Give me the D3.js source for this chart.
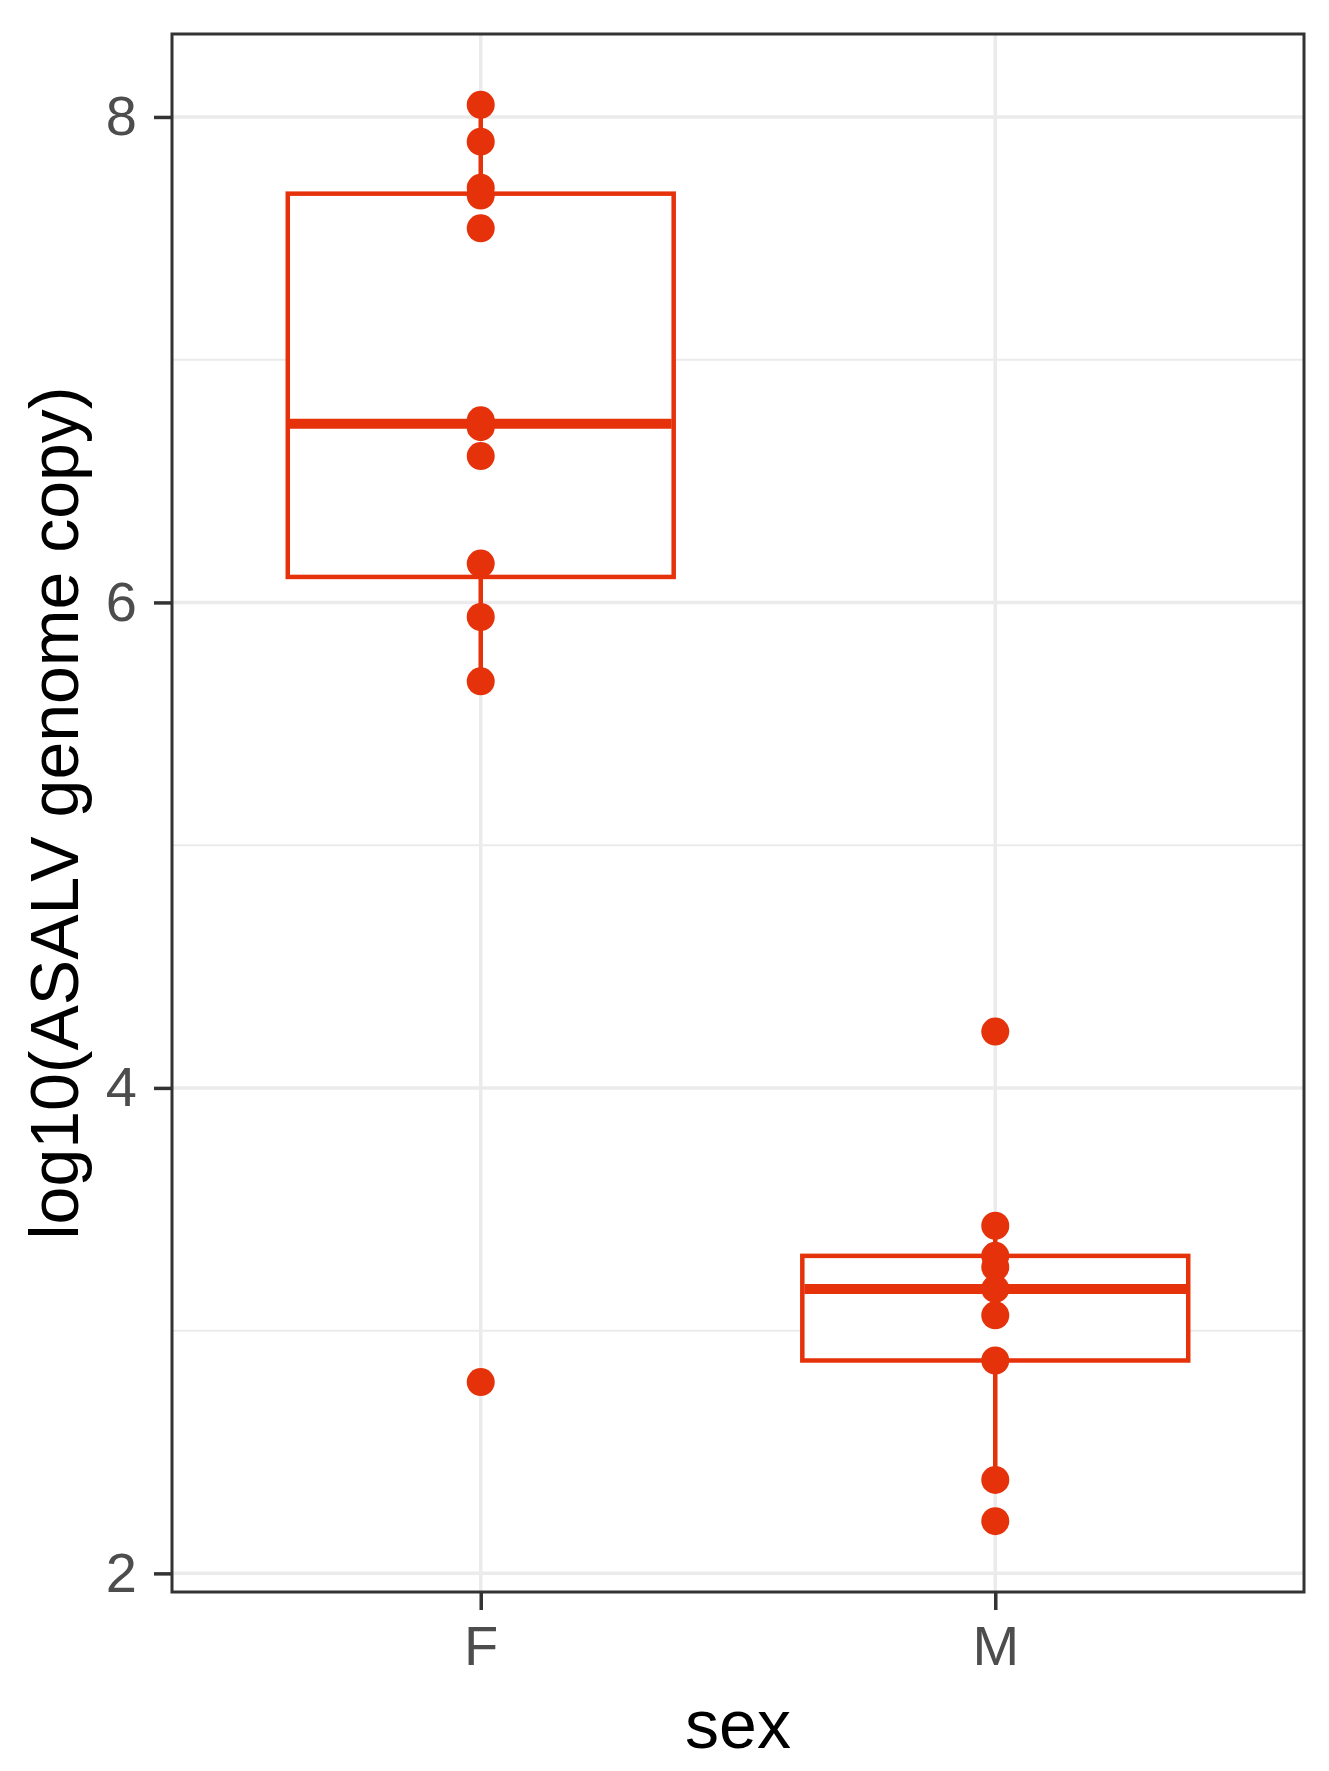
<!DOCTYPE html>
<html>
<head>
<meta charset="utf-8">
<script src="https://cdn.jsdelivr.net/npm/d3@7"></script>
<style>
  body { margin: 0; background: #fff; }
  text { font-family: "Liberation Sans", Arial, Helvetica, sans-serif; }
</style>
</head>
<body>
<div id="wrapper"></div>
<script>
// values (log10 genome copies)
const groups = ["F", "M"];
const valuesF = [8.050, 7.898, 7.708, 7.676, 7.541, 6.750, 6.722, 6.603, 6.160, 5.940, 5.675, 2.788];
const valuesM = [4.232, 3.432, 3.308, 3.262, 3.172, 3.063, 2.877, 2.385, 2.215];
const yTicks = [2, 4, 6, 8];
const yMinor = [3, 5, 7];

const red = "#E6320A";

const dimension = {
    width: 1329,
    height: 1771,
    margin: { top: 34, left: 172, right: 25, bottom: 179 }
};
dimension.boundedWidth = dimension.width - dimension.margin.left - dimension.margin.right;
dimension.boundedHeight = dimension.height - dimension.margin.top - dimension.margin.bottom;

const data = [
    { key: "F", values: valuesF },
    { key: "M", values: valuesM }
];

// boxplot stats, ggplot style (type 7 quantiles, 1.5 IQR whiskers)
data.forEach(d => {
    const s = d.values.slice().sort(d3.ascending);
    d.q1 = d3.quantile(s, 0.25);
    d.median = d3.quantile(s, 0.5);
    d.q3 = d3.quantile(s, 0.75);
    const iqr = d.q3 - d.q1;
    d.lo = d3.min(s.filter(v => v >= d.q1 - 1.5 * iqr));
    d.hi = d3.max(s.filter(v => v <= d.q3 + 1.5 * iqr));
});

const all = valuesF.concat(valuesM);
const ext = d3.extent(all);
const pad = (ext[1] - ext[0]) * 0.05;

const svg = d3.select("#wrapper").append("svg")
    .attr("width", dimension.width)
    .attr("height", dimension.height);

const bounded = svg.append("g")
    .attr("transform", `translate(${dimension.margin.left},${dimension.margin.top})`);

const scaleY = d3.scaleLinear()
    .domain([ext[0] - pad, ext[1] + pad])
    .range([dimension.boundedHeight, 0]);

const scaleX = d3.scalePoint()
    .domain(groups)
    .range([0, dimension.boundedWidth])
    .padding(0.6);

const boxW = scaleX.step() * 0.75;

// grid
bounded.append("g").selectAll("line")
    .data(yMinor).join("line")
    .attr("x1", 0).attr("x2", dimension.boundedWidth)
    .attr("y1", d => scaleY(d)).attr("y2", d => scaleY(d))
    .attr("stroke", "#EBEBEB").attr("stroke-width", 2);

bounded.append("g").selectAll("line")
    .data(yTicks).join("line")
    .attr("x1", 0).attr("x2", dimension.boundedWidth)
    .attr("y1", d => scaleY(d)).attr("y2", d => scaleY(d))
    .attr("stroke", "#EBEBEB").attr("stroke-width", 3.5);

bounded.append("g").selectAll("line")
    .data(groups).join("line")
    .attr("x1", d => scaleX(d)).attr("x2", d => scaleX(d))
    .attr("y1", 0).attr("y2", dimension.boundedHeight)
    .attr("stroke", "#EBEBEB").attr("stroke-width", 3.5);

// boxes
const boxes = bounded.append("g").selectAll("g")
    .data(data).join("g");

boxes.append("line")
    .attr("x1", d => scaleX(d.key)).attr("x2", d => scaleX(d.key))
    .attr("y1", d => scaleY(d.q3)).attr("y2", d => scaleY(d.hi))
    .attr("stroke", red).attr("stroke-width", 4.5);

boxes.append("line")
    .attr("x1", d => scaleX(d.key)).attr("x2", d => scaleX(d.key))
    .attr("y1", d => scaleY(d.q1)).attr("y2", d => scaleY(d.lo))
    .attr("stroke", red).attr("stroke-width", 4.5);

boxes.append("rect")
    .attr("x", d => scaleX(d.key) - boxW / 2)
    .attr("y", d => scaleY(d.q3))
    .attr("width", boxW)
    .attr("height", d => scaleY(d.q1) - scaleY(d.q3))
    .attr("fill", "white")
    .attr("stroke", red).attr("stroke-width", 4.5);

boxes.append("line")
    .attr("x1", d => scaleX(d.key) - boxW / 2 + 2)
    .attr("x2", d => scaleX(d.key) + boxW / 2 - 2)
    .attr("y1", d => scaleY(d.median)).attr("y2", d => scaleY(d.median))
    .attr("stroke", red).attr("stroke-width", 10);

// points
const points = data.flatMap(d => d.values.map(v => ({ key: d.key, v })));
bounded.append("g").selectAll("circle")
    .data(points).join("circle")
    .attr("cx", d => scaleX(d.key))
    .attr("cy", d => scaleY(d.v))
    .attr("r", 14)
    .attr("fill", red);

// panel border
bounded.append("rect")
    .attr("width", dimension.boundedWidth)
    .attr("height", dimension.boundedHeight)
    .attr("fill", "none")
    .attr("stroke", "#333333")
    .attr("stroke-width", 3);

// axes
const yAxis = bounded.append("g")
    .call(d3.axisLeft(scaleY).tickValues(yTicks).tickSize(18).tickPadding(17).tickFormat(d3.format("d")));
const xAxis = bounded.append("g")
    .attr("transform", `translate(0,${dimension.boundedHeight})`)
    .call(d3.axisBottom(scaleX).tickSize(18).tickPadding(15));

[yAxis, xAxis].forEach(ax => {
    ax.select(".domain").remove();
    ax.selectAll(".tick line").attr("stroke", "#333333").attr("stroke-width", 3.5);
    ax.selectAll(".tick text")
        .attr("fill", "#4D4D4D")
        .attr("font-size", "56px")
        .style("font-family", "'Liberation Sans', Arial, sans-serif");
});
xAxis.selectAll(".tick text").attr("dy", "0.72em");

// titles
svg.append("text")
    .attr("x", dimension.margin.left + dimension.boundedWidth / 2)
    .attr("y", 1748)
    .attr("text-anchor", "middle")
    .attr("font-size", "68px")
    .attr("fill", "black")
    .text("sex");

svg.append("text")
    .attr("transform", `translate(78,${dimension.margin.top + dimension.boundedHeight / 2}) rotate(-90)`)
    .attr("text-anchor", "middle")
    .attr("font-size", "68px")
    .attr("fill", "black")
    .text("log10(ASALV genome copy)");
</script>
</body>
</html>
